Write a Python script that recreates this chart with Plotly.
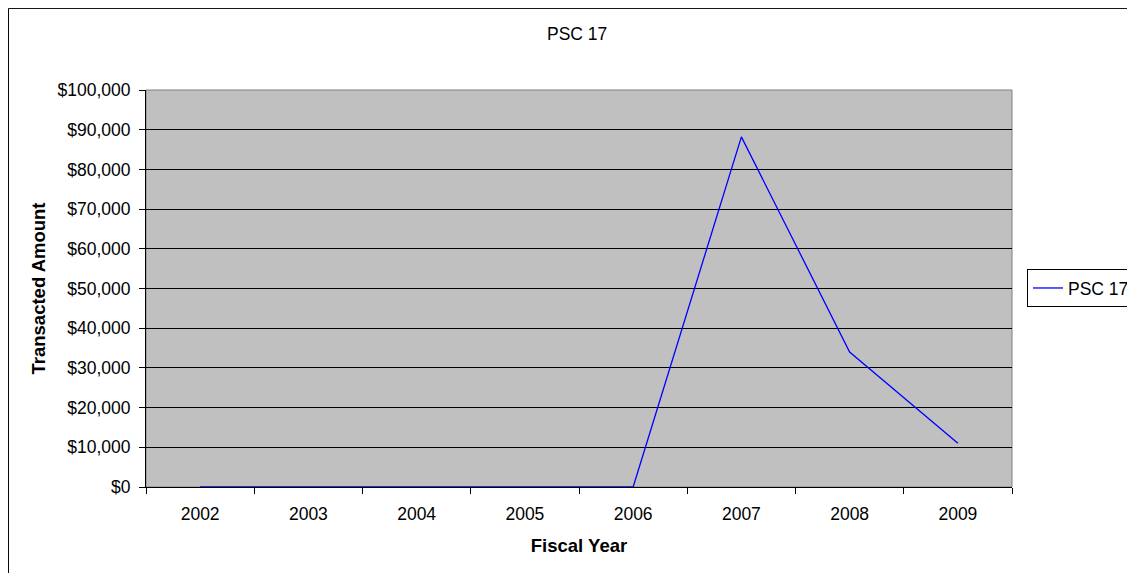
import plotly.graph_objects as go

years = ["2002", "2003", "2004", "2005", "2006", "2007", "2008", "2009"]
amounts = [0, 0, 0, 0, 0, 88200, 34000, 11000]
series_name = "PSC 17"

font = "Liberation Sans, Arial, sans-serif"

fig = go.Figure(go.Scatter(
    x=years, y=amounts, name=series_name, mode="lines",
    line=dict(color="#0000FF", width=1.3),
    showlegend=True))

# page body has an 8px margin, so the figure is laid out 8px in from the window
fig.update_layout(
    width=1127, height=565,
    margin=dict(l=138, r=123, t=82, b=86, autoexpand=False),
    paper_bgcolor="white", plot_bgcolor="#C0C0C0",
    font=dict(family=font, size=17.5, color="black"),
    title=dict(text="PSC 17", x=0.505, xanchor="center", y=0.955, yanchor="middle",
               font=dict(size=17.5)),
    legend=dict(x=1.0173, y=0.501, xanchor="left", yanchor="middle",
                bordercolor="black", borderwidth=1, font=dict(size=17.5),
                itemwidth=30, tracegroupgap=0),
    shapes=[
        dict(type="rect", xref="paper", yref="paper",
             x0=-0.1588, x1=1.2, y0=-0.3, y1=1.2055,
             line=dict(color="black", width=1), layer="below"),
        dict(type="rect", xref="paper", yref="paper",
             x0=0, x1=1, y0=0, y1=1,
             line=dict(color="#808080", width=1), layer="below"),
    ],
)

fig.update_xaxes(
    type="category", range=[-0.5, len(years) - 0.5], tickson="boundaries",
    ticks="outside", ticklen=6, ticklabelstandoff=11, automargin=False,
    tickcolor="black", showline=True, linecolor="black", linewidth=1,
    showgrid=False, zeroline=False,
    title=dict(text="<b>Fiscal Year</b>", font=dict(size=18.5), standoff=16),
)
fig.update_yaxes(
    range=[0, 100000], dtick=10000, tickprefix="$", tickformat=",",
    ticks="outside", ticklen=6, tickcolor="black", ticklabelstandoff=5,
    automargin=False,
    showline=True, linecolor="black", linewidth=1,
    showgrid=True, gridcolor="black", gridwidth=1, zeroline=False,
    title=dict(text="<b>Transacted Amount</b>", font=dict(size=18.5), standoff=7),
)

fig.write_html("out.html")
